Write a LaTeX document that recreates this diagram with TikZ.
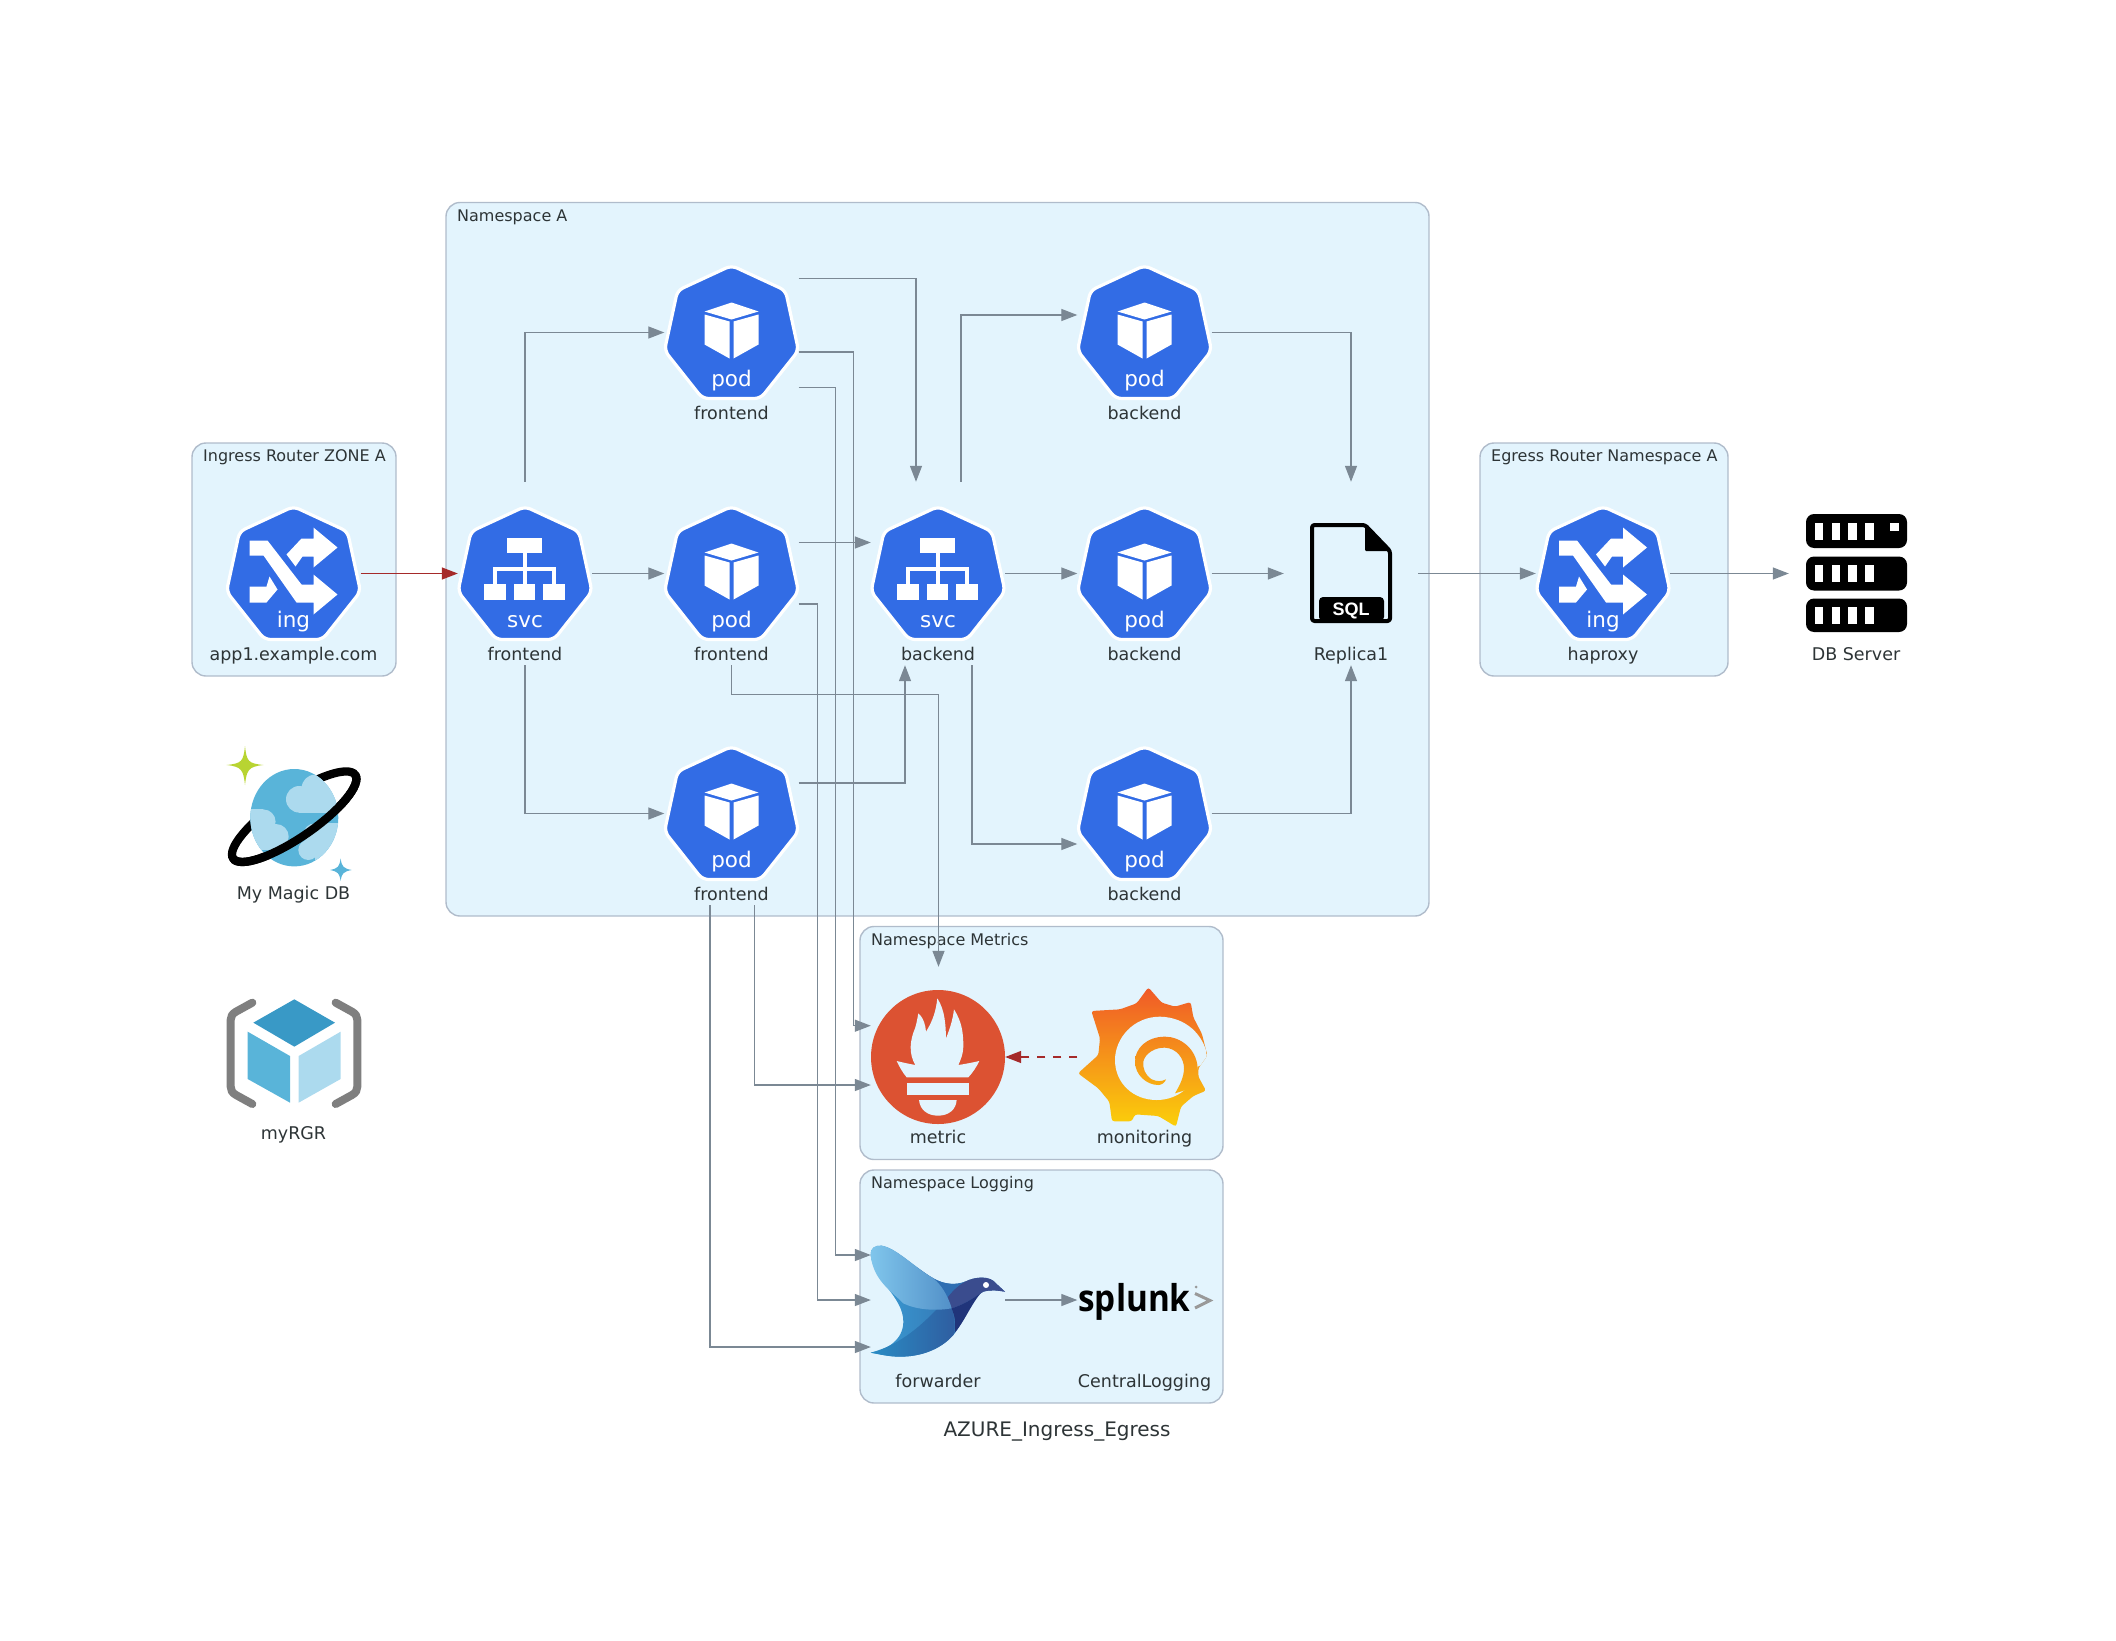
\documentclass[tikz,border=0pt]{standalone}
\usepackage{fontspec}
\setmainfont{DejaVu Sans}
\newfontfamily\splunkfont{Open Sans}
\newfontfamily\sqlfont{Liberation Sans}
\usetikzlibrary{arrows.meta,calc}
\definecolor{clfill}{HTML}{E3F4FD}
\definecolor{clline}{HTML}{B0BCCB}
\definecolor{txtc}{HTML}{2D3436}
\definecolor{edgec}{HTML}{7B8894}
\definecolor{redc}{HTML}{A52A2A}
\definecolor{kblue}{HTML}{326CE5}
\definecolor{azA}{HTML}{59B4D9}
\definecolor{azB}{HTML}{ACDAEE}
\definecolor{azC}{HTML}{3999C6}
\definecolor{azG}{HTML}{B8D432}
\definecolor{promc}{HTML}{DC5232}
\definecolor{graT}{HTML}{F05A28}
\definecolor{graB}{HTML}{FBCF0A}
\definecolor{brk}{HTML}{7F7F7F}
\definecolor{spg}{HTML}{999999}
\definecolor{fdA}{HTML}{3B9FD6}
\definecolor{fdB}{HTML}{2F5DA0}
\definecolor{fdC}{HTML}{2A8CC4}
\definecolor{fdH}{HTML}{3A4C8E}
\definecolor{fdD}{HTML}{20347A}
\definecolor{fdM}{HTML}{2E6EB2}
\definecolor{fdL}{HTML}{80C6EC}
\definecolor{fdR}{HTML}{5290C8}
\tikzset{
  cluster/.style={draw=clline,fill=clfill,line width=1.4pt,rounded corners=14pt},
  cltext/.style={anchor=base west,inner sep=0pt,text=txtc,font=\fontsize{16}{19}\selectfont},
  lab/.style={anchor=base,inner sep=0pt,yshift=.7pt,text=txtc,font=\fontsize{17.5}{20}\selectfont},
  iconbox/.style={rectangle,draw=none,inner sep=0pt,minimum width=134pt,minimum height=183pt},
  kind/.style={anchor=base,inner sep=0pt,text=white,font=\fontsize{21.5}{24}\selectfont},
  edge/.style={draw=edgec,line width=1.33pt,-{Triangle[length=16pt,width=12pt]}},
  rededge/.style={draw=redc,line width=1.33pt,-{Triangle[length=16pt,width=12pt]}},
  hept/.pic={\filldraw[fill=kblue,draw=white,line width=3.2pt,rounded corners=6pt]
    (0,-67)--(54,-42)--(67,18)--(29,66)--(-29,66)--(-67,18)--(-54,-42)--cycle;},
  podicon/.pic={\pic{hept};
    \fill[white] (0,-30)--(27,-21)--(0,-13)--(-27,-21)--cycle;
    \fill[white] (-27,-18)--(-2,-11)--(-2,26)--(-27,12)--cycle;
    \fill[white] (2,-11)--(27,-18)--(27,12)--(2,26)--cycle;
    \node[kind] (pk) at (0,53.5) {pod};},
  svcicon/.pic={\pic{hept};
    \fill[white] (-18,-36) rectangle (17,-21);
    \fill[white] (-2,-21) rectangle (2,10);
    \fill[white] (-32,-7) rectangle (31,-3);
    \fill[white] (-32,-7) rectangle (-28,10);
    \fill[white] (27,-7) rectangle (31,10);
    \fill[white] (-41,10) rectangle (-19,26);
    \fill[white] (-11,10) rectangle (10,26);
    \fill[white] (18,10) rectangle (40,26);
    \node[kind] (sk) at (0,53.5) {svc};},
  ingicon/.pic={\pic{hept};
    \fill[white] (-44,-33)--(-26,-33)--(8,11)--(20,11)--(20,1)--(44,21)--(20,41)--(20,29)--(3,29)--(-30,-18)--(-44,-18)--cycle;
    \fill[white] (20,-46)--(44,-26)--(20,-6)--(20,-17)--(9,-17)--(2,-7)--(-7,-19)--(8,-35)--(20,-35)--cycle;
    \fill[white] (-44,13)--(-27,13)--(-24,3)--(-16,16)--(-27,29)--(-44,29)--cycle;
    \node[kind] (ik) at (0,53.5) {ing};},
}
\begin{document}
\begin{tikzpicture}[x=1pt,y=-1pt]
\useasboundingbox (0,0) rectangle (2116,1640);
% clusters
\path[cluster] (192,443) rectangle (396,676);
\path[cluster] (446,202.5) rectangle (1429,916);
\path[cluster] (1480,443) rectangle (1728,676);
\path[cluster] (860,926.5) rectangle (1223,1159.5);
\path[cluster] (860,1170) rectangle (1223,1403);
\node[cltext] (c1) at (203,461) {Ingress Router ZONE A};
\node[cltext] (c2) at (457,221) {Namespace A};
\node[cltext] (c3) at (1491,461) {Egress Router Namespace A};
\node[cltext] (c4) at (871,945) {Namespace Metrics};
\node[cltext] (c5) at (871,1188.5) {Namespace Logging};
% node boxes
\node[iconbox] (ing) at (293.5,573.5) {};
\node[iconbox] (svcf) at (525,573.5) {};
\node[iconbox] (podt) at (731.5,332.5) {};
\node[iconbox] (podm) at (731.5,573.5) {};
\node[iconbox] (podb) at (731.5,813.5) {};
\node[iconbox] (svcb) at (938,573.5) {};
\node[iconbox] (pbt) at (1144.5,332.5) {};
\node[iconbox] (pbm) at (1144.5,573.5) {};
\node[iconbox] (pbb) at (1144.5,813.5) {};
\node[iconbox] (sql) at (1351,573.5) {};
\node[iconbox] (hap) at (1603,573.5) {};
\node[iconbox] (db) at (1856,573.5) {};
\node[iconbox] (cosmos) at (293.5,813.5) {};
\node[iconbox] (rgr) at (293.5,1053) {};
\node[iconbox] (metric) at (938,1057) {};
\node[iconbox] (graf) at (1144.5,1057) {};
\node[iconbox] (fwd) at (938,1300) {};
\node[iconbox] (spl) at (1144.5,1300) {};
% kubernetes icons
\pic at (ing) {ingicon};
\pic at (hap) {ingicon};
\pic at (svcf) {svcicon};
\pic at (svcb) {svcicon};
\pic at (podt) {podicon};
\pic at (podm) {podicon};
\pic at (podb) {podicon};
\pic at (pbt) {podicon};
\pic at (pbm) {podicon};
\pic at (pbb) {podicon};
% labels
\node[lab] (l1) at (293.5,661) {app1.example.com};
\node[lab] (l2) at (525,661) {frontend};
\node[lab] (l3) at (731.5,420) {frontend};
\node[lab] (l4) at (731.5,661) {frontend};
\node[lab] (l5) at (731.5,901) {frontend};
\node[lab] (l6) at (938,661) {backend};
\node[lab] (l7) at (1144.5,420) {backend};
\node[lab] (l8) at (1144.5,661) {backend};
\node[lab] (l9) at (1144.5,901) {backend};
\node[lab] (l10) at (1351,661) {Replica1};
\node[lab] (l11) at (1603,661) {haproxy};
\node[lab] (l12) at (1856,661) {DB Server};
\node[lab] (l13) at (293.5,900.5) {My Magic DB};
\node[lab] (l14) at (293.5,1140.5) {myRGR};
\node[lab] (l15) at (938,1144) {metric};
\node[lab] (l16) at (1144.5,1144) {monitoring};
\node[lab] (l17) at (938,1388) {forwarder};
\node[lab] (l18) at (1144.5,1388) {CentralLogging};
\node[anchor=base,inner sep=0pt,text=txtc,font=\fontsize{20}{24}\selectfont] (title) at (1057,1436) {AZURE\_Ingress\_Egress};
% SQL document
\draw[black,line width=4pt,rounded corners=2.5pt,line join=round] (1365,525)--(1312,525)--(1312,621)--(1390,621)--(1390,551)--cycle;
\fill[black,rounded corners=1pt] (1365,525)--(1390,551)--(1365,551)--cycle;
\fill[black,rounded corners=4pt] (1319,621)--(1319,597)--(1384,597)--(1384,621)--cycle;
\node[inner sep=0pt,text=white,font={\sqlfont\bfseries\fontsize{18}{20}\selectfont}] (sqltxt) at (1351,611) {SQL};
% DB server
\foreach \t/\b in {514/548,556.5/590.5,598.5/632}{
  \fill[black,rounded corners=8pt] (1806,\t) rectangle (1907,\b);
}
\foreach \t in {523,565,607}{
  \foreach \l in {1814.5,1831.5,1848,1865}{
    \fill[white] (\l,\t) rectangle ({\l+8.5},{\t+16.5});
  }
}
\fill[white] (1890,523) rectangle (1899,531);
% Cosmos DB
\begin{scope}[shift={(200,720)}]
\begin{scope}[x=.33333pt,y=-.33333pt]
\fill[azG] (135,78) .. controls (140,125) and (145,130) .. (190,135) .. controls (145,140) and (140,150) .. (135,195) .. controls (130,150) and (125,140) .. (80,135) .. controls (125,130) and (130,125) .. (135,78) -- cycle;
\fill[azA] (422,415) .. controls (425,440) and (430,445) .. (455,450) .. controls (430,455) and (425,460) .. (422,483) .. controls (418,460) and (415,455) .. (390,450) .. controls (415,445) and (418,440) .. (422,415) -- cycle;
\end{scope}
\end{scope}
\begin{scope}[shift={(294.2,816.7)},rotate=34.4]
\draw[black,line width=8.3pt] (0,0) ellipse [x radius=74pt,y radius=21pt];
\end{scope}
\fill[azA] (294.3,817.7) ellipse [x radius=44pt,y radius=48.7pt];
\begin{scope}
\clip (294.3,817.7) ellipse [x radius=44pt,y radius=48.7pt];
\fill[azB] (299.3,799.3) circle [radius=13.3pt];
\fill[azB] (315,788) circle [radius=13.3pt];
\fill[azB] (299.3,790) rectangle (345,812.7);
\fill[azB] (315,775) rectangle (345,800);
\fill[azB] (263.3,821.7) circle [radius=12.3pt];
\fill[azB] (276,836.7) circle [radius=12.7pt];
\fill[azB] (245,809.3) rectangle (263.3,850);
\fill[azB] (260,830) rectangle (276,850);
\fill[azB] (315,835) circle [radius=11.7pt];
\fill[azB] (308.3,850) circle [radius=10pt];
\fill[azB] (315,823.3) rectangle (345,860);
\end{scope}
\begin{scope}[shift={(294.2,816.7)},rotate=34.4]
\draw[black,line width=8.3pt] (-74pt,0pt) arc [start angle=180,end angle=360,x radius=74pt,y radius=21pt];
\end{scope}
% Resource group
\begin{scope}[shift={(200,720)}]
\begin{scope}[x=.33333pt,y=-.33333pt]
\draw[brk,line width=8pt,line cap=round,line join=round] (157,848)--(108,875)..controls (96,882) and (92,890) .. (92,900)--(92,1100) .. controls (92,1110) and (96,1118) .. (108,1125)--(157,1152);
\draw[brk,line width=8pt,line cap=round,line join=round] (407,848)--(456,875)..controls (468,882) and (472,890) .. (472,900)--(472,1100) .. controls (472,1110) and (468,1118) .. (456,1125)--(407,1152);
\fill[azC] (283,838)--(405,908)--(283,980)--(160,908)--cycle;
\fill[azA] (143,935)--(270,1008)--(270,1148)--(143,1077)--cycle;
\fill[azB] (296,1008)--(422,935)--(422,1077)--(296,1148)--cycle;
\end{scope}
\end{scope}
% Prometheus
\fill[promc] (metric.center) circle [radius=67pt];
\begin{scope}[shift={(850,960)}]
\begin{scope}[x=.33333pt,y=-.33333pt]
\fill[clfill] (140,303) .. controls (160,308) and (180,312) .. (196,315) .. controls (175,280) and (180,240) .. (195,205) .. controls (200,190) and (202,175) .. (205,160) .. controls (222,175) and (226,195) .. (228,215) .. controls (250,180) and (258,150) .. (262,115) .. controls (285,150) and (287,195) .. (288,235) .. controls (300,205) and (308,180) .. (312,148) .. controls (335,185) and (340,215) .. (340,260) .. controls (340,280) and (332,300) .. (325,315) .. controls (345,312) and (365,308) .. (388,303) .. controls (380,320) and (368,338) .. (355,352) -- (170,352) .. controls (158,338) and (148,320) .. (140,303) -- cycle;
\fill[clfill] (170,370) rectangle (358,405);
\fill[clfill] (207,420) -- (320,420) .. controls (318,450) and (295,467) .. (264,467) .. controls (233,467) and (210,450) .. (207,420) -- cycle;
% Grafana
\begin{scope}
\clip[rounded corners=2.5pt] (895,82)--(935,128)--(975,140)--(1022,126)--(1030,172)--(1056,222)--(1072,287)--(1045,325)--(1045,350)--(1068,392)--(1030,408)--(993,440)--(978,500)--(925,468)--(855,463)--(845,484)--(786,484)--(778,425)--(745,385)--(684,340)--(745,285)--(750,235)--(724,153)--(810,148)--(860,130)--cycle;
\shade[top color=graT,bottom color=graB] (680,85) rectangle (1080,497);
\fill[clfill] (1072,287) .. controls (1060,225) and (1010,172) .. (930,170) .. controls (850,170) and (795,235) .. (795,300) .. controls (795,370) and (850,420) .. (920,420) .. controls (985,420) and (1035,375) .. (1043,320) -- (1085,300) -- cycle;
\end{scope}
\begin{scope}
\clip (1043,325) .. controls (1040,265) and (990,230) .. (945,230) .. controls (890,230) and (855,265) .. (855,305) .. controls (855,345) and (890,375) .. (925,375) .. controls (935,375) and (945,368) .. (948,358) .. controls (935,365) and (920,365) .. (905,358) .. controls (885,345) and (878,325) .. (880,305) .. controls (885,280) and (915,262) .. (945,263) .. controls (980,265) and (1002,295) .. (1002,325) .. controls (1002,350) and (990,375) .. (975,400) -- (1040,380) -- cycle;
\shade[top color=graT,bottom color=graB] (680,85) rectangle (1080,497);
\end{scope}
\end{scope}
\end{scope}
% Fluentd bird
\begin{scope}[shift={(850,1210)}]
\begin{scope}[x=.33333pt,y=-.33333pt]
\shade[left color=fdA,right color=fdB]
 (62,135) .. controls (60,115) and (75,105) .. (95,107) .. controls (140,115) and (190,170) .. (250,205) .. controls (285,225) and (320,225) .. (345,215) .. controls (375,200) and (420,195) .. (440,222) -- (465,245) .. controls (445,242) and (425,238) .. (400,245) .. controls (360,265) and (340,340) .. (310,375) .. controls (270,420) and (210,440) .. (150,440) .. controls (115,440) and (85,432) .. (62,428) .. controls (110,420) and (160,390) .. (160,335) .. controls (160,260) and (70,210) .. (62,135) -- cycle;
\shade[left color=fdC,right color=fdB] (62,428) .. controls (150,405) and (220,345) .. (290,265) -- (305,290) .. controls (312,320) and (318,350) .. (310,375) .. controls (270,420) and (210,440) .. (150,440) .. controls (115,440) and (85,432) .. (62,428) -- cycle;
\fill[fdH] (290,265) .. controls (310,235) and (330,222) .. (345,215) .. controls (375,200) and (420,195) .. (440,222) -- (465,245) .. controls (445,242) and (425,238) .. (400,245) .. controls (370,265) and (340,285) .. (305,295) -- cycle;
\fill[fdD] (305,295) .. controls (340,285) and (370,265) .. (392,250) .. controls (365,280) and (340,340) .. (314,368) .. controls (318,340) and (315,320) .. (305,295) -- cycle;
\fill[fdM] (200,172) .. controls (220,185) and (235,197) .. (250,205) .. controls (285,225) and (320,225) .. (345,215) .. controls (325,225) and (305,245) .. (290,265) -- cycle;
\shade[left color=fdL,right color=fdR]
 (62,135) .. controls (60,115) and (75,105) .. (95,107) .. controls (140,115) and (190,170) .. (250,205) .. controls (275,225) and (295,260) .. (305,295) .. controls (265,302) and (205,302) .. (160,280) .. controls (120,240) and (70,210) .. (62,135) -- cycle;
\fill[white] (408,225) circle [radius=3pt];
\end{scope}
\end{scope}
% Splunk
\node[inner sep=0pt,anchor=base,text=black,xscale=.9,font={\splunkfont\bfseries\fontsize{37}{40}\selectfont}] (spltxt) at (1134.5,1311) {splunk};
\draw[spg,line width=3pt] (1195,1293.5)--(1210,1300.5)--(1195,1308);
\fill[spg] (1196,1287) circle [radius=1.5pt];
% edges
\draw[rededge] (ing.east) -- (svcf.west);
\draw[edge] (svcf.north) |- (podt.west);
\draw[edge] (svcf.east) -- (podm.west);
\draw[edge] (svcf.south) |- (podb.west);
\draw[edge] ([yshift=54pt]podt.east) -| ([xshift=-22pt]svcb.north);
\draw[edge] ([yshift=-19.5pt]podt.east) -- ++(54.5,0) |- ([yshift=31.3pt]metric.west);
\draw[edge] ([yshift=-55pt]podt.east) -- ++(36.5,0) |- ([yshift=45pt]fwd.west);
\draw[edge] ([yshift=31pt]podm.east) -- ([yshift=31pt]svcb.west);
\draw[edge] (podm.south) -- ++(0,29) -| ([shift={(.5pt,-1.5pt)}]metric.north);
\draw[edge] ([yshift=-30.5pt]podm.east) -- ++(18.5,0) |- (fwd.west);
\draw[edge] ([yshift=30.5pt]podb.east) -| ([xshift=-33pt]svcb.south);
\draw[edge] ([xshift=23pt]podb.south) |- ([yshift=-28pt]metric.west);
\draw[edge] ([xshift=-21.5pt]podb.south) |- ([yshift=-47pt]fwd.west);
\draw[edge] ([xshift=23pt]svcb.north) |- ([yshift=17.5pt]pbt.west);
\draw[edge] (svcb.east) -- (pbm.west);
\draw[edge] ([xshift=34pt]svcb.south) |- ([yshift=-30.5pt]pbb.west);
\draw[edge] (pbt.east) -| (sql.north);
\draw[edge] (pbm.east) -- (sql.west);
\draw[edge] (pbb.east) -| (sql.south);
\draw[edge] (sql.east) -- (hap.west);
\draw[edge] (hap.east) -- (db.west);
\draw[rededge,dash pattern=on 8pt off 8pt] (graf.west) -- (metric.east);
\draw[edge] (fwd.east) -- (spl.west);
\end{tikzpicture}
\end{document}
